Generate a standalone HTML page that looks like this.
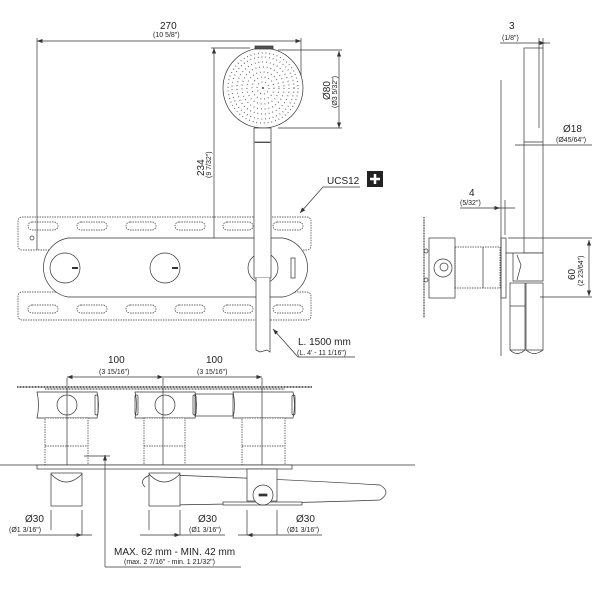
<!DOCTYPE html>
<html><head><meta charset="utf-8"><style>
html,body{margin:0;padding:0;background:#fff;width:611px;height:589px;overflow:hidden}
svg{display:block}
text{font-family:"Liberation Sans",sans-serif;fill:#222;stroke:none}
.b{font-size:10px}.s{font-size:7px}
</style></head><body>
<svg width="611" height="589" viewBox="0 0 611 589" xmlns="http://www.w3.org/2000/svg" fill="none" stroke="#333" stroke-width="0.7">
<defs><marker id="a" markerWidth="8" markerHeight="6" refX="8" refY="3" orient="auto-start-reverse"><path d="M0,0 L8,3 L0,6z" fill="#333" stroke="none"/></marker></defs>

<line x1="37" y1="41" x2="301" y2="41" marker-start="url(#a)" marker-end="url(#a)"/>
<line x1="37" y1="38" x2="37" y2="250"/>
<line x1="301" y1="38" x2="301" y2="78"/>
<text class="b" x="160" y="29">270</text><text class="s" x="153" y="37">(10 5/8")</text>
<line x1="214" y1="48" x2="214" y2="277" marker-start="url(#a)" marker-end="url(#a)"/>
<line x1="211" y1="48" x2="250" y2="48"/><line x1="211" y1="277" x2="258" y2="277"/>
<text class="b" transform="translate(204,176) rotate(-90)">234</text>
<text class="s" transform="translate(211,178) rotate(-90)">(9 7/32")</text>
<line x1="339" y1="51" x2="339" y2="128" marker-start="url(#a)" marker-end="url(#a)"/>
<line x1="278" y1="50" x2="342" y2="50"/><line x1="278" y1="128" x2="342" y2="128"/>
<text class="b" transform="translate(330,100) rotate(-90)">Ø80</text>
<text class="s" transform="translate(337,108) rotate(-90)">(Ø3 5/32")</text>

<rect x="18" y="217" width="293" height="33" rx="4" stroke-dasharray="1.5 1"/>
<rect x="18" y="292" width="293" height="28" rx="4" stroke-dasharray="1.5 1"/>
<g stroke-dasharray="1.5 1">
<rect x="28" y="222" width="30" height="8" rx="4"/><rect x="77" y="222" width="30" height="8" rx="4"/><rect x="126" y="222" width="30" height="8" rx="4"/><rect x="175" y="222" width="30" height="8" rx="4"/><rect x="223" y="222" width="30" height="8" rx="4"/><rect x="273" y="222" width="30" height="8" rx="4"/>
<rect x="28" y="305" width="30" height="8" rx="4"/><rect x="77" y="305" width="30" height="8" rx="4"/><rect x="126" y="305" width="30" height="8" rx="4"/><rect x="175" y="305" width="30" height="8" rx="4"/><rect x="223" y="305" width="30" height="8" rx="4"/><rect x="273" y="305" width="30" height="8" rx="4"/>
</g>
<circle cx="32" cy="238" r="2"/>
<path d="M68,238 H283 A30,30 0 0 1 283,297 H68 A30,30 0 0 1 68,238z" fill="#fff"/>
<circle cx="65" cy="268" r="15"/><line x1="72" y1="268" x2="78" y2="268" stroke-width="2"/>
<circle cx="165" cy="268" r="15"/><line x1="172" y1="268" x2="178" y2="268" stroke-width="2"/>
<circle cx="263" cy="268" r="15"/>
<rect x="291" y="258" width="4" height="20"/>
<circle cx="263" cy="88" r="40" fill="#fff"/>
<rect x="255" y="46" width="18" height="3" fill="#555"/>
<circle cx="263" cy="88" r="1" fill="#444" stroke="none"/>
<g stroke="#555" stroke-width="1.2" stroke-dasharray="0.8 3" fill="none">
<circle cx="263" cy="88" r="6"/><circle cx="263" cy="88" r="11"/><circle cx="263" cy="88" r="16"/><circle cx="263" cy="88" r="21"/><circle cx="263" cy="88" r="26"/><circle cx="263" cy="88" r="31"/><circle cx="263" cy="88" r="35"/>
</g>
<rect x="254" y="128" width="17" height="150" fill="#fff"/>
<rect x="255" y="142" width="15" height="0.5"/>
<path d="M256,278 V350 L260,352 L267,350 L270,352 V278" fill="#fff"/>
<text class="b" x="327" y="184">UCS12</text>
<rect x="367" y="171" width="16" height="16" fill="#222" stroke="none"/>
<path d="M375,174 V184 M370,179 H380" stroke="#fff" stroke-width="2.5"/>
<polyline points="360,187 323,187 300,213" marker-end="url(#a)"/>
<text class="b" x="298" y="345">L. 1500 mm</text><text class="s" x="297" y="355">(L. 4' - 11 1/16")</text>
<polyline points="355,357 298,357 273,329" marker-end="url(#a)"/>

<line x1="500" y1="43" x2="550" y2="43"/>
<line x1="539" y1="43" x2="545" y2="43" marker-end="url(#a)"/>
<line x1="539" y1="38" x2="539" y2="48"/><line x1="543" y1="38" x2="543" y2="48"/>
<text class="b" x="509" y="29">3</text><text class="s" x="502" y="40">(1/8")</text>
<rect x="524" y="48" width="19" height="205" fill="#fff"/>
<line x1="539" y1="48" x2="539" y2="128"/>
<line x1="524" y1="142" x2="543" y2="142"/>
<line x1="515" y1="145" x2="592" y2="145"/>
<text class="b" x="563" y="132">Ø18</text><text class="s" x="556" y="142">(Ø45/64")</text>
<line x1="501" y1="80" x2="501" y2="356"/>
<line x1="505" y1="200" x2="505" y2="235"/>
<line x1="460" y1="208" x2="515" y2="208"/>
<line x1="493" y1="208" x2="500" y2="208" marker-end="url(#a)"/>
<text class="b" x="469" y="196">4</text><text class="s" x="460" y="205">(5/32")</text>
<rect x="501" y="238" width="5" height="60"/>
<line x1="508" y1="238" x2="592" y2="238"/><line x1="540" y1="297" x2="592" y2="297"/>
<line x1="589" y1="240" x2="589" y2="296" marker-start="url(#a)" marker-end="url(#a)"/>
<text class="b" transform="translate(575,280) rotate(-90)">60</text>
<text class="s" transform="translate(583,286) rotate(-90)">(2 23/64")</text>
<path d="M506,253 H520 L524,253 H543 V281 H513 V253" fill="#fff"/>
<path d="M517,255 L521,265 L517,280"/>
<rect x="510" y="283" width="15" height="67"/><path d="M510,350 Q517,357 525,350"/>
<rect x="526" y="283" width="17" height="67"/><path d="M526,350 Q534,357 543,350"/>
<line x1="510" y1="306" x2="525" y2="306"/>
<rect x="429" y="238" width="26" height="60" fill="#fff"/>
<rect x="455" y="247" width="45" height="41" stroke-dasharray="1.5 1"/>
<line x1="483" y1="247" x2="483" y2="288"/>
<circle cx="443" cy="268" r="9"/><circle cx="444" cy="267" r="4"/>
<line x1="424" y1="217" x2="424" y2="318" stroke-width="1.2" stroke-dasharray="1 0.6"/>
<circle cx="426" cy="251" r="2"/><circle cx="426" cy="280" r="2"/>

<line x1="67" y1="377" x2="163" y2="377" marker-start="url(#a)" marker-end="url(#a)"/>
<line x1="163" y1="377" x2="262" y2="377" marker-end="url(#a)"/>
<text class="b" x="108" y="363">100</text><text class="s" x="99" y="374">(3 15/16")</text>
<text class="b" x="206" y="363">100</text><text class="s" x="197" y="374">(3 15/16")</text>
<line x1="17" y1="387" x2="312" y2="387" stroke-width="1.4" stroke-dasharray="1 0.5"/>
<line x1="45" y1="389" x2="285" y2="389" stroke-width="1" stroke-dasharray="1 0.5"/>
<g fill="#fff">
<path d="M37,392 Q40,405 37,418 H97 Q100,405 97,392z"/><path d="M135,392 Q138,405 135,418 H195 Q198,405 195,392z"/><path d="M233,392 Q236,405 233,418 H293 Q296,405 293,392z"/>
<rect x="45" y="418" width="43" height="47" stroke-dasharray="1.5 1"/><rect x="144" y="418" width="41" height="47" stroke-dasharray="1.5 1"/><rect x="242" y="418" width="43" height="47" stroke-dasharray="1.5 1"/>
</g>
<line x1="45" y1="446" x2="88" y2="446" stroke-dasharray="1.5 1"/><line x1="144" y1="446" x2="185" y2="446" stroke-dasharray="1.5 1"/><line x1="242" y1="446" x2="285" y2="446" stroke-dasharray="1.5 1"/>
<circle cx="67" cy="405" r="10"/><circle cx="165" cy="405" r="10"/>
<rect x="195" y="394" width="38" height="22"/>
<rect x="95" y="395" width="3" height="20" rx="1.5"/><rect x="135" y="395" width="3" height="20" rx="1.5"/><rect x="193" y="395" width="3" height="20" rx="1.5"/><rect x="292" y="395" width="3" height="20" rx="1.5"/>
<line x1="67" y1="378" x2="67" y2="465"/><line x1="163" y1="378" x2="163" y2="465"/><line x1="262" y1="378" x2="262" y2="465"/>
<line x1="0" y1="465" x2="415" y2="465"/>
<rect x="37" y="465" width="255" height="4" fill="#fff"/>
<path d="M170,475 Q300,480 380,485 Q392,492 380,500 Q300,503 170,505" fill="#fff"/>
<path d="M150,475 Q138,480 145,487"/>
<rect x="51" y="473" width="31" height="33" fill="#fff"/><path d="M51,474 Q66,490 82,474"/>
<rect x="149" y="473" width="31" height="33" fill="#fff"/><path d="M149,474 Q164,490 180,474"/>
<rect x="247" y="469" width="30" height="32" fill="#fff"/>
<rect x="223" y="502" width="79" height="3" fill="#fff"/>
<circle cx="263" cy="495" r="10" fill="#fff"/><rect x="259" y="494" width="8" height="2" fill="#333"/>
<line x1="51" y1="510" x2="51" y2="530"/><line x1="82" y1="510" x2="82" y2="535"/>
<line x1="18" y1="535" x2="92" y2="535"/><line x1="74" y1="535" x2="82" y2="535" marker-end="url(#a)"/>
<line x1="149" y1="510" x2="149" y2="530"/><line x1="180" y1="510" x2="180" y2="535"/>
<line x1="140" y1="535" x2="225" y2="535"/><line x1="172" y1="535" x2="180" y2="535" marker-end="url(#a)"/>
<line x1="247" y1="510" x2="247" y2="535"/><line x1="277" y1="510" x2="277" y2="535"/>
<line x1="238" y1="535" x2="322" y2="535"/><line x1="255" y1="535" x2="247" y2="535" marker-end="url(#a)"/>
<text class="b" x="25" y="522">Ø30</text><text class="s" x="9" y="532">(Ø1 3/16")</text>
<text class="b" x="198" y="522">Ø30</text><text class="s" x="189" y="532">(Ø1 3/16")</text>
<text class="b" x="296" y="522">Ø30</text><text class="s" x="287" y="532">(Ø1 3/16")</text>
<line x1="84" y1="456" x2="110" y2="456"/>
<line x1="105" y1="567" x2="105" y2="455" marker-end="url(#a)"/>
<line x1="105" y1="567" x2="241" y2="567"/>
<text class="b" x="114" y="555">MAX. 62 mm - MIN. 42 mm</text>
<text class="s" x="124" y="564">(max. 2 7/16" - min. 1 21/32")</text>
</svg>
</body></html>
